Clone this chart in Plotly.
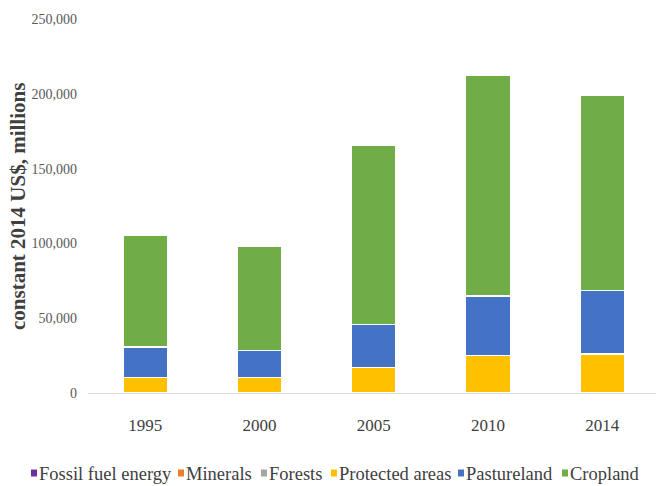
import plotly.graph_objects as go

years = ["1995", "2000", "2005", "2010", "2014"]
fossil_fuel = [0, 0, 0, 0, 0]
minerals = [0, 0, 0, 0, 0]
forests = [0, 0, 0, 0, 0]
protected_areas = [10200, 10200, 17100, 25100, 26000]
pastureland = [20500, 18200, 28600, 39800, 42400]
cropland = [74600, 70000, 119800, 147300, 130500]

series_names = ["Fossil fuel energy", "Minerals", "Forests",
                "Protected areas", "Pastureland", "Cropland"]
series_values = [fossil_fuel, minerals, forests,
                 protected_areas, pastureland, cropland]
series_colors = ["#7030A0", "#ED7D31", "#A5A5A5", "#FFC000", "#4472C4", "#70AD47"]

# legend entry positions in pixels (marker left edge)
legend_px = [31, 178, 261, 331, 458, 562]

W, H = 656, 486
ML, MR, MT, MB = 88, 0, 19, 93
PW, PH = W - ML - MR, H - MT - MB


def px_x(px):
    return (px - ML) / PW


def px_y(py):
    return (H - MB - py) / PH


fig = go.Figure()
for name, vals, color in zip(series_names, series_values, series_colors):
    fig.add_trace(go.Bar(
        x=years, y=vals, name=name,
        marker=dict(color=color, line=dict(color="white", width=1.5)),
        width=0.39, showlegend=False,
    ))

FONT = "Liberation Serif"
shapes = []
annotations = []
for name, color, lx in zip(series_names, series_colors, legend_px):
    shapes.append(dict(
        type="rect", xref="paper", yref="paper",
        x0=px_x(lx), x1=px_x(lx + 6), y0=px_y(476.5), y1=px_y(469.5),
        fillcolor=color, line=dict(width=0), layer="above",
    ))
    annotations.append(dict(
        text=name, xref="paper", yref="paper",
        x=px_x(lx + 7), y=px_y(473.5), xanchor="left", yanchor="middle",
        showarrow=False, borderpad=0,
        font=dict(family=FONT, size=18.5, color="#404040"),
    ))

annotations.append(dict(
    text="<b>constant 2014 US$, millions</b>",
    xref="paper", yref="paper",
    x=px_x(18), y=px_y(207), xanchor="center", yanchor="middle",
    textangle=-90, showarrow=False,
    font=dict(family=FONT, size=21, color="#404040"),
))

fig.update_layout(
    barmode="stack",
    width=W, height=H,
    margin=dict(l=ML, r=MR, t=MT, b=MB, autoexpand=False),
    plot_bgcolor="white", paper_bgcolor="white",
    font=dict(family=FONT, color="#404040"),
    showlegend=False,
    xaxis=dict(
        type="category", range=[-0.5, 4.47],
        showline=True, linecolor="#D9D9D9", linewidth=1,
        showgrid=False, ticks="",
        tickfont=dict(family=FONT, size=17, color="#404040"),
        ticklabelstandoff=17,
    ),
    yaxis=dict(
        range=[0, 250000], tickvals=[0, 50000, 100000, 150000, 200000, 250000],
        tickformat=",", showgrid=False, zeroline=False, showline=False,
        tickfont=dict(family=FONT, size=14, color="#595959"),
        ticklabelstandoff=10,
    ),
    shapes=shapes,
    annotations=annotations,
)

fig.write_html(
    "out.html",
    config={"displayModeBar": False},
    post_script="document.body.style.margin='0';document.body.style.overflow='hidden';",
)
